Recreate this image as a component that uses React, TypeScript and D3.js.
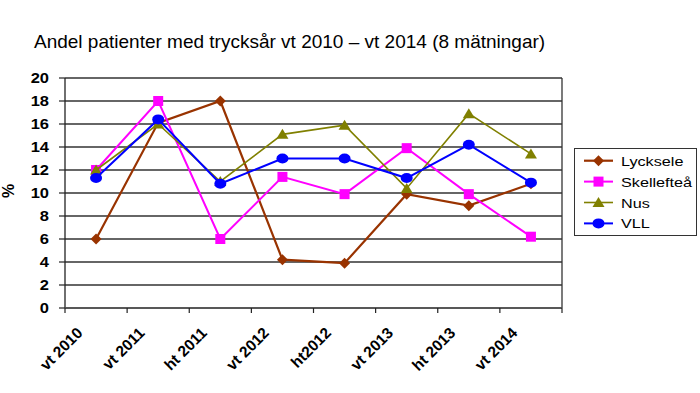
import React from "react";
import * as d3 from "d3";

const categories = ["vt 2010", "vt 2011", "ht 2011", "vt 2012", "ht2012", "vt 2013", "ht 2013", "vt 2014"];
const lycksele = [6.0, 16.1, 18.0, 4.2, 3.9, 9.9, 8.9, 10.8];
const skelleftea = [12.0, 18.0, 6.0, 11.4, 9.9, 13.9, 9.9, 6.2];
const nus = [12.0, 16.0, 11.0, 15.1, 15.9, 10.4, 16.9, 13.4];
const vll = [11.3, 16.4, 10.8, 13.0, 13.0, 11.3, 14.2, 10.9];
const yTicks = [0, 2, 4, 6, 8, 10, 12, 14, 16, 18, 20];

const series = [
  { name: "Lycksele", values: lycksele, color: "#993300", marker: "diamond", width: 2.2 },
  { name: "Skellefteå", values: skelleftea, color: "#FF00FF", marker: "square", width: 2 },
  { name: "Nus", values: nus, color: "#808000", marker: "triangle", width: 1.6 },
  { name: "VLL", values: vll, color: "#0000FF", marker: "circle", width: 2 },
];

const L = 65, R = 562, T = 78, B = 308;

function Marker({ type, x, y, color }: { type: string; x: number; y: number; color: string }) {
  if (type === "diamond") {
    return <path d={`M${x},${y - 5.5}L${x + 5.5},${y}L${x},${y + 5.5}L${x - 5.5},${y}Z`} fill={color} />;
  }
  if (type === "square") {
    return <rect x={x - 5} y={y - 5} width={10} height={10} fill={color} />;
  }
  if (type === "triangle") {
    return <path d={`M${x},${y - 5.5}L${x + 6},${y + 4.5}L${x - 6},${y + 4.5}Z`} fill={color} />;
  }
  return <ellipse cx={x} cy={y} rx={6} ry={5} fill={color} />;
}

export default function App() {
  const x = d3.scaleBand<string>().domain(categories).range([L, R]).paddingInner(0).paddingOuter(0);
  const bw = x.bandwidth();
  const cx = (c: string) => (x(c) as number) + bw / 2;
  const y = d3.scaleLinear().domain([0, 20]).range([B, T]);
  const line = d3
    .line<number>()
    .x((_, i) => cx(categories[i]))
    .y((d) => y(d));
  const edges = categories.map((c) => x(c) as number).concat([R]);

  return (
    <svg width={700} height={393} style={{ position: "absolute", left: 0, top: 0, background: "#fff" }}
      fontFamily="'Liberation Sans', Arial, sans-serif">
      <rect width={700} height={393} fill="#fff" />
      <text x={34} y={48} fontSize={19} fill="#000">
        Andel patienter med trycksår vt 2010 – vt 2014 (8 mätningar)
      </text>
      {/* gridlines */}
      {yTicks.map((t) => (
        <line key={"g" + t} x1={L} x2={R} y1={y(t)} y2={y(t)} stroke="#333" strokeWidth={1.3} />
      ))}
      <line x1={R} x2={R} y1={T} y2={B} stroke="#333" strokeWidth={1.3} />
      {/* y axis */}
      <line x1={L} x2={L} y1={T} y2={B} stroke="#222" strokeWidth={1.3} />
      {yTicks.map((t) => (
        <g key={"yt" + t}>
          <line x1={L - 6} x2={L} y1={y(t)} y2={y(t)} stroke="#222" strokeWidth={1.2} />
          <text transform={`translate(49,${y(t) + 5.4}) scale(1.1,1)`} textAnchor="end" fontSize={15}
            fontWeight="bold" fill="#000">
            {t}
          </text>
        </g>
      ))}
      <text transform="translate(14,191) rotate(-90)" textAnchor="middle" fontSize={16} fontWeight="bold">%</text>
      {/* x axis */}
      <line x1={L} x2={R} y1={B} y2={B} stroke="#555" strokeWidth={1.5} />
      {edges.map((e, i) => (
        <line key={"xt" + i} x1={e} x2={e} y1={B} y2={B + 5} stroke="#222" strokeWidth={1.2} />
      ))}
      {categories.map((c) => (
        <text key={"xl" + c} transform={`translate(${cx(c) - 12.5},${B + 26}) rotate(-45)`} textAnchor="end"
          fontSize={15.5} fontWeight="bold" fill="#000">
          {c}
        </text>
      ))}
      {/* series */}
      {series.map((s) => (
        <g key={s.name}>
          <path d={line(s.values) as string} fill="none" stroke={s.color} strokeWidth={s.width} />
          {s.values.map((v, i) => (
            <Marker key={i} type={s.marker} x={cx(categories[i])} y={y(v)} color={s.color} />
          ))}
        </g>
      ))}
      {/* legend */}
      <rect x={574.5} y={148.5} width={122} height={87} fill="#fff" stroke="#333" strokeWidth={1} />
      {series.map((s, i) => {
        const ly = 160.7 + i * 20.9;
        return (
          <g key={"lg" + s.name}>
            <line x1={584} x2={613} y1={ly} y2={ly} stroke={s.color} strokeWidth={s.width} />
            <Marker type={s.marker} x={598.5} y={ly} color={s.color} />
            <text transform={`translate(621,${ly + 5}) scale(1.2,1)`} fontSize={13.5} fill="#000">
              {s.name}
            </text>
          </g>
        );
      })}
    </svg>
  );
}
